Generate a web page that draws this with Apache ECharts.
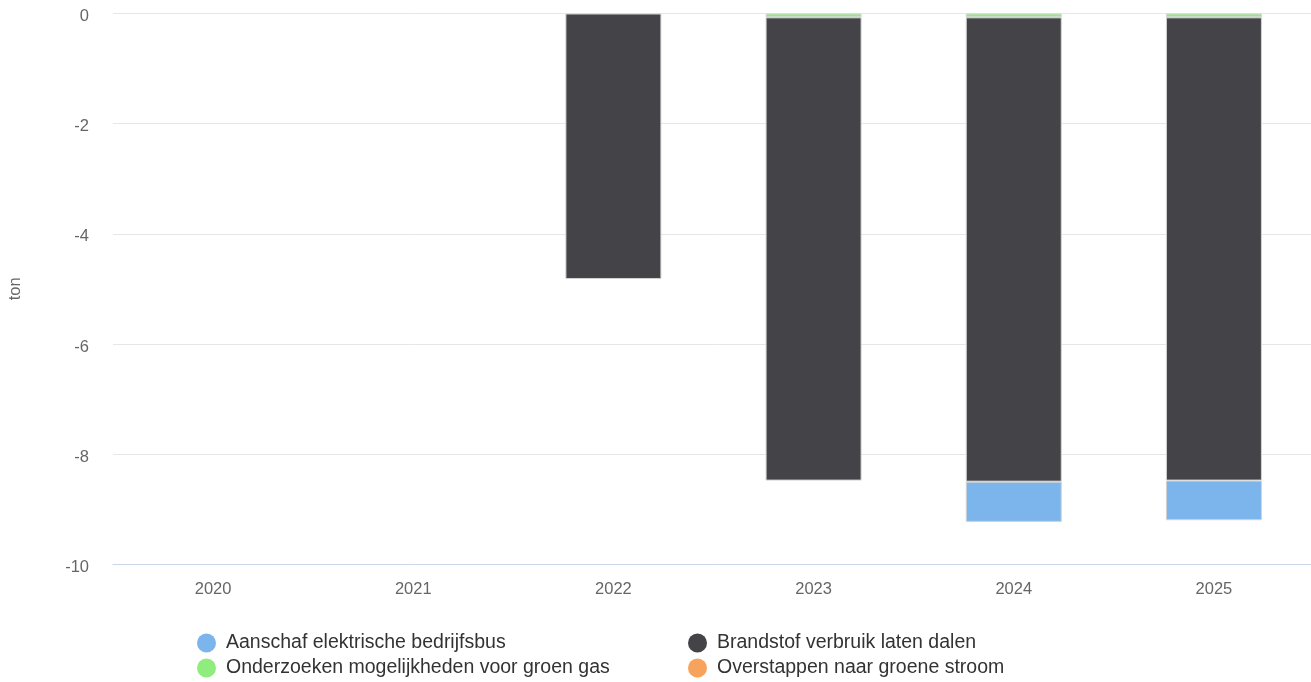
<!DOCTYPE html>
<html>
<head>
<meta charset="utf-8">
<script src="https://cdn.jsdelivr.net/npm/echarts@6/dist/echarts.min.js"></script>
<style>
html,body{margin:0;padding:0;background:#fff;}
#chart{width:1311px;height:682px;}
</style>
</head>
<body>
<div id="chart"></div>
<script>
const categories = ['2020', '2021', '2022', '2023', '2024', '2025'];
const aanschaf = [null, null, null, null, -0.73, -0.72];
const brandstof = [null, null, -4.82, -8.41, -8.43, -8.41];
const groenGas = [null, null, null, -0.07, -0.07, -0.07];
const groeneStroom = [null, null, null, null, null, null];
const yTicks = [0, -2, -4, -6, -8, -10];

const names = {
  a: 'Aanschaf elektrische bedrijfsbus',
  b: 'Brandstof verbruik laten dalen',
  g: 'Onderzoeken mogelijkheden voor groen gas',
  o: 'Overstappen naar groene stroom'
};
const colors = { a: '#7cb5ec', b: '#434348', g: '#90ed7d', o: '#f7a35c' };

const chart = echarts.init(document.getElementById('chart'), null, { renderer: 'canvas' });

function bar(key, data) {
  return {
    name: names[key],
    type: 'bar',
    stack: 'total',
    data: data,
    barWidth: 96,
    itemStyle: { color: colors[key], borderColor: '#d4d4d4', borderWidth: 1 },
    emphasis: { disabled: true }
  };
}

const legendCommon = {
  orient: 'vertical',
  icon: 'circle',
  itemWidth: 19,
  itemHeight: 19,
  itemGap: 5,
  padding: 0,
  top: 633,
  height: 80,
  width: 480,
  itemStyle: { borderWidth: 0 },
  textStyle: { fontSize: 19.5, color: '#333', fontFamily: 'Liberation Sans, Arial, sans-serif', padding: [0, 0, 0, 5] },
  selectedMode: false
};

chart.setOption({
  animation: false,
  textStyle: { fontFamily: 'Liberation Sans, Arial, sans-serif' },
  grid: { left: 113, top: 13.5, width: 1201, bottom: 117.7, containLabel: false, outerBoundsMode: 'none' },
  legend: [
    Object.assign({}, legendCommon, { left: 197, data: [names.a, names.g] }),
    Object.assign({}, legendCommon, { left: 688, data: [names.b, names.o] })
  ],
  xAxis: {
    type: 'category',
    data: categories,
    position: 'bottom',
    axisLine: { onZero: false, lineStyle: { color: '#ccd6eb', width: 1 } },
    axisTick: { show: false },
    axisLabel: { color: '#666', fontSize: 16.5, margin: 17 },
    splitLine: { show: false }
  },
  yAxis: {
    type: 'value',
    min: -10,
    max: 0,
    interval: 2,
    name: 'ton',
    nameLocation: 'middle',
    nameGap: 89,
    nameTextStyle: { color: '#666', fontSize: 16.5 },
    axisLine: { show: false },
    axisTick: { show: false },
    axisLabel: {
      color: '#666', fontSize: 16.5, margin: 24,
      verticalAlign: 'top', lineHeight: 6,
      formatter: function (v) { return yTicks.indexOf(v) >= 0 ? String(v) : ''; }
    },
    splitLine: { lineStyle: { color: '#e6e6e6', width: 1 } }
  },
  series: [
    bar('o', groeneStroom),
    bar('g', groenGas),
    bar('b', brandstof),
    bar('a', aanschaf)
  ]
});
</script>
</body>
</html>
